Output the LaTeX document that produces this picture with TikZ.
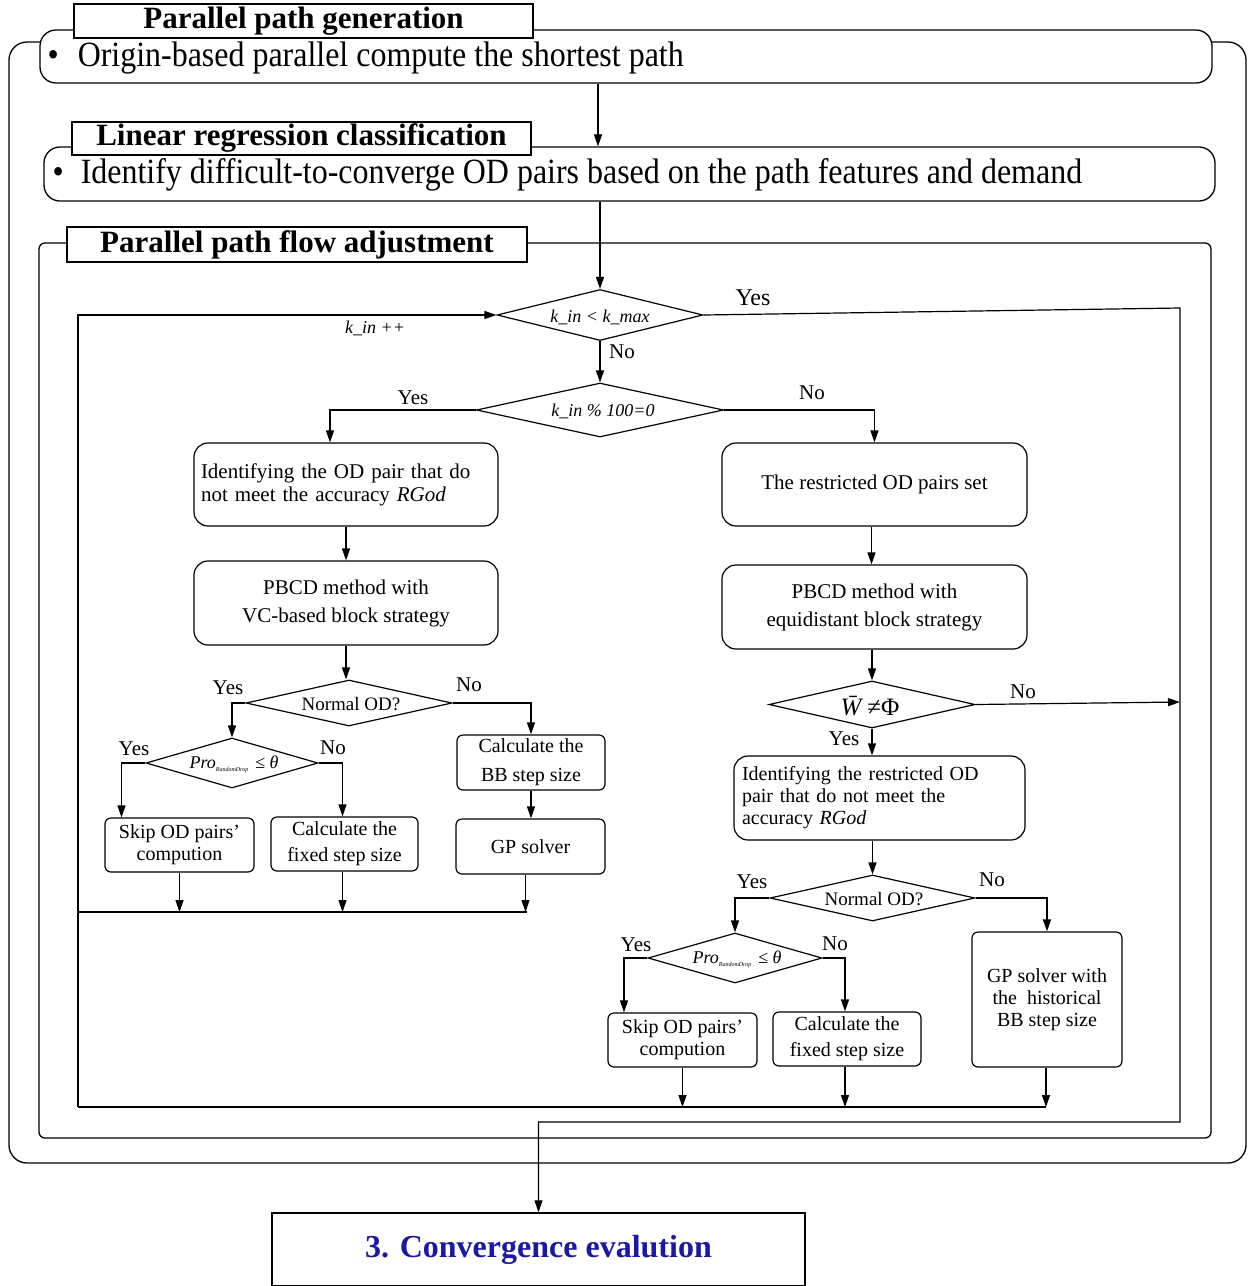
\documentclass[tikz,border=0pt]{standalone}
\usepackage{fontspec}
\setmainfont{Liberation Serif}
\newfontfamily\condfont{Liberation Serif}[FakeStretch=0.9]
\usetikzlibrary{shapes.geometric,arrows.meta,calc}
\definecolor{convblue}{RGB}{25,25,165}
\begin{document}
\begin{tikzpicture}[x=1pt,y=-1pt,line width=1.2pt,
  frame/.style={draw,fill=white,line width=1.3pt,rounded corners=16pt},
  ttl/.style={draw,fill=white,line width=1.2pt,inner sep=0pt,font=\bfseries\fontsize{31}{31}\selectfont},
  bul/.style={anchor=west,inner sep=0pt,font=\condfont\fontsize{35.5}{36}\selectfont},
  rbox/.style={draw,fill=white,rounded corners=14pt,line width=1.2pt,align=center,inner sep=0pt,font=\fontsize{21}{23}\selectfont},
  sbox/.style={draw,fill=white,rounded corners=6pt,line width=1.2pt,align=center,inner sep=0pt,font=\fontsize{20}{22}\selectfont},
  dia/.style={draw,diamond,fill=white,inner sep=0pt,line width=1.2pt,shape aspect=4},
  arr/.style={-{Triangle[length=12pt,width=8pt]},line width=1.2pt},
  lbl/.style={inner sep=0pt,font=\fontsize{21}{21}\selectfont},
  itl/.style={inner sep=0pt,font=\itshape\fontsize{18}{18}\selectfont}]
\useasboundingbox (0,0) rectangle (1252,1286);

% outer frames
\draw[line width=1.3pt,rounded corners=18pt] (9,42) rectangle (1246,1163);
\node[frame,minimum width=1172,minimum height=53] (b1) at (626,56.5) {};
\node[bul] (b1t) at (47,58) {\textbullet\hspace{19pt}Origin-based parallel compute the shortest path};
\node[ttl,minimum width=459,minimum height=34] (t1) at (303.5,21) {Parallel path generation};

\node[frame,minimum width=1171,minimum height=54] (b2) at (629.5,174) {};
\node[bul] (b2t) at (52,175) {\textbullet\hspace{17pt}Identify difficult-to-converge OD pairs based on the path features and demand};
\node[ttl,minimum width=459,minimum height=33] (t2) at (301.5,138.5) {Linear regression classification};

\draw[line width=1.3pt,rounded corners=6pt] (39,243) rectangle (1211,1138);
\node[ttl,minimum width=460,minimum height=35] (t3) at (297,244.5) {Parallel path flow adjustment};

\draw[arr] ([xshift=-28pt]b1.south) -- ([xshift=-31.5pt]b2.north);

% diamonds
\node[dia,minimum width=206,minimum height=51] (d1) at (600,315) {};
\node[itl] (d1t) at (600,317) {k\_in < k\_max};
\node[dia,minimum width=247,minimum height=54] (d2) at (600,410) {};
\node[itl] (d2t) at (603,411) {k\_in \% 100=0};

\draw[arr] (b2.south -| d1.north) -- (d1.north);
\draw[arr] (d1.south) -- (d2.north);
\node[lbl] (no1) at (622,352) {No};

% loop right side
\coordinate (lr) at (1180,308);
\coordinate (lm) at (1180,702);
\coordinate (lb) at (1180,1122);
\node[draw,line width=1.5pt,minimum width=533,minimum height=73,inner sep=0pt,
  font=\bfseries\fontsize{32}{32}\selectfont,text=convblue] (conv) at (538.5,1249.5) {3. Convergence evalution};
\draw[arr] (d1.east) -- (lr) -- (lb) -| (conv.north);
\node[lbl,font=\fontsize{24}{24}\selectfont] (yes1) at (753,298) {Yes};

% left column
\node[rbox,minimum width=304,minimum height=83,text width=290,align=left] (L1) at (346,484.5)
  {Identifying the OD pair that do\\not meet the accuracy \textit{RGod}};
\node[rbox,minimum width=304,minimum height=84,font=\fontsize{21}{28}\selectfont] (L2) at (346,603)
  {PBCD method with\\VC-based block strategy};
\draw[arr] (d2.west) -| ([xshift=-16pt]L1.north);
\node[lbl] (yes2) at (413,398) {Yes};
\draw[arr] (L1.south) -- (L2.north);

\node[dia,minimum width=206,minimum height=46] (d3) at (349,703) {};
\node[lbl,font=\fontsize{19}{19}\selectfont] (d3t) at (351,704) {Normal OD?};
\draw[arr] (L2.south) -- (L2.south |- d3.north);
\node[lbl] (yes3) at (228,688) {Yes};
\node[lbl] (no3) at (469,685) {No};

\node[dia,minimum width=172,minimum height=50] (d4) at (232,763) {};
\node[inner sep=0pt] (d4t) at (234,764) {{\itshape\fontsize{18}{18}\selectfont Pro}{\itshape\fontsize{6}{6}\selectfont\raisebox{-3pt}{RandomDrop}}\hspace{7pt}{\fontsize{18}{18}\selectfont ≤ \itshape θ}};
\draw[arr] (d3.west) -| (d4.north);
\node[lbl] (yes4) at (134,749) {Yes};
\node[lbl] (no4) at (333,748) {No};

\node[sbox,minimum width=149,minimum height=54] (S1) at (179.5,845) {Skip OD pairs’\\compution};
\node[sbox,minimum width=147,minimum height=54,font=\fontsize{20}{26}\selectfont] (F1) at (344.5,844) {Calculate the\\fixed step size};
\node[sbox,minimum width=148,minimum height=55,font=\fontsize{20}{29}\selectfont] (BB1) at (531,762.5) {Calculate the\\BB step size};
\node[sbox,minimum width=149,minimum height=55] (GP1) at (530.5,846.5) {GP solver};

\draw[arr] (d4.west) -| ([xshift=-58pt]S1.north);
\draw[arr] (d4.east) -| ([xshift=-2pt]F1.north);
\draw[arr] (d3.east) -| (BB1.north);
\draw[arr] (BB1.south) -- (BB1.south |- GP1.north);

\coordinate (mtL) at (78,912);
\coordinate (mtR) at (527,912);
\draw (mtL) -- (mtR);
\draw[arr] (S1.south) -- (S1.south |- mtL);
\draw[arr] ([xshift=-2pt]F1.south) -- ([xshift=-2pt]F1.south |- mtL);
\draw[arr] ([xshift=-5pt]GP1.south) -- ([xshift=-5pt]GP1.south |- mtL);

% right column
\node[rbox,minimum width=305,minimum height=83] (R1) at (874.5,484.5) {The restricted OD pairs set};
\node[rbox,minimum width=305,minimum height=84,font=\fontsize{21}{28}\selectfont] (R2) at (874.5,607) {PBCD method with\\equidistant block strategy};
\draw[arr] (d2.east) -| (R1.north);
\node[lbl] (no2) at (812,393) {No};
\draw[arr] ([xshift=-3pt]R1.south) -- ([xshift=-3pt]R2.north);

\node[dia,minimum width=206,minimum height=47] (d5) at (872,704.5) {};
\node[inner sep=0pt,font=\fontsize{25}{25}\selectfont] (d5t) at (870,706) {\textit{W̄}≠Φ};
\draw[arr] (R2.south -| d5.north) -- (d5.north);
\draw[arr] (d5.east) -- (lm);
\node[lbl] (no5) at (1023,692) {No};

\node[rbox,minimum width=291,minimum height=84,text width=275,align=left,font=\fontsize{20}{22}\selectfont] (R4) at (879.5,798)
  {Identifying the restricted OD\\pair that do not meet the\\accuracy \textit{RGod}};
\draw[arr] (d5.south) -- (d5.south |- R4.north);
\node[lbl] (yes5) at (844,739) {Yes};

\node[dia,minimum width=205,minimum height=46] (d6) at (872.5,898) {};
\node[lbl,font=\fontsize{19}{19}\selectfont] (d6t) at (874,899) {Normal OD?};
\draw[arr] (R4.south -| d6.north) -- (d6.north);
\node[lbl] (yes6) at (752,882) {Yes};
\node[lbl] (no6) at (992,880) {No};

\node[dia,minimum width=174,minimum height=50] (d7) at (735,958) {};
\node[inner sep=0pt] (d7t) at (737,959) {{\itshape\fontsize{18}{18}\selectfont Pro}{\itshape\fontsize{6}{6}\selectfont\raisebox{-3pt}{RandomDrop}}\hspace{7pt}{\fontsize{18}{18}\selectfont ≤ \itshape θ}};
\draw[arr] (d6.west) -| (d7.north);
\node[lbl] (yes7) at (636,945) {Yes};
\node[lbl] (no7) at (835,944) {No};

\node[sbox,minimum width=149,minimum height=54] (S2) at (682.5,1040) {Skip OD pairs’\\compution};
\node[sbox,minimum width=148,minimum height=54,font=\fontsize{20}{26}\selectfont] (F2) at (847,1039) {Calculate the\\fixed step size};
\node[sbox,minimum width=150,minimum height=135] (GPH) at (1047,999.5) {GP solver with\\the\ \ historical\\BB step size};

\draw[arr] (d7.west) -| ([xshift=-58.5pt]S2.north);
\draw[arr] (d7.east) -| ([xshift=-2pt]F2.north);
\draw[arr] (d6.east) -| (GPH.north);

\coordinate (mbL) at (78,1107);
\coordinate (mbR) at (1046,1107);
\draw (mbL) -- (mbR);
\draw[arr] (S2.south) -- (S2.south |- mbL);
\draw[arr] ([xshift=-2pt]F2.south) -- ([xshift=-2pt]F2.south |- mbL);
\draw[arr] ([xshift=-1pt]GPH.south) -- ([xshift=-1pt]GPH.south |- mbL);

% loop back
\draw[arr] (mbL) -- (mbL |- d1.west) -- (d1.west);
\node[itl] (kin) at (375,328) {k\_in ++};
\end{tikzpicture}
\end{document}
